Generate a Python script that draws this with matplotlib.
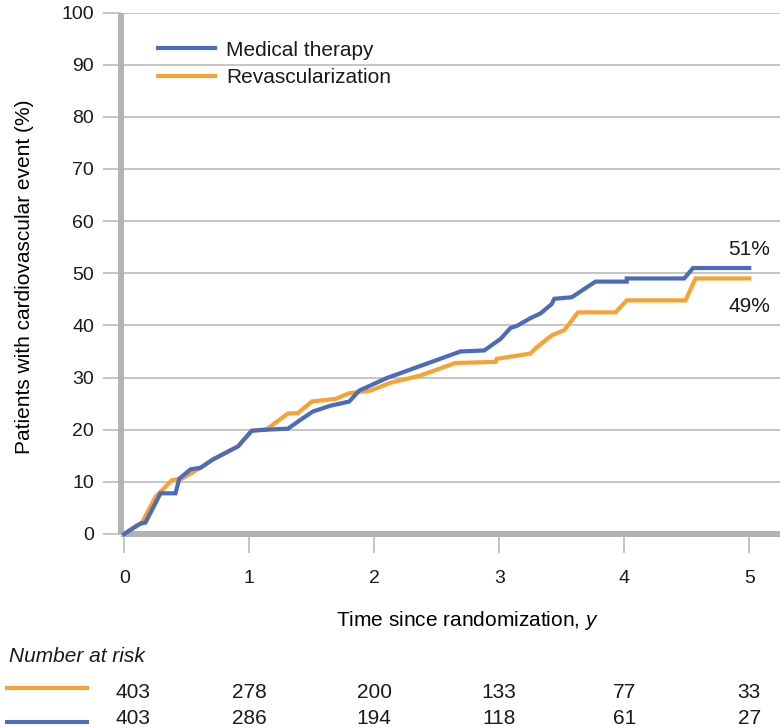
import matplotlib

matplotlib.use("Agg")
import matplotlib.pyplot as plt
from matplotlib.lines import Line2D
from matplotlib import transforms

# Cumulative event curves (years, %)
medical_t = [0, 0.13, 0.17, 0.29, 0.41, 0.44, 0.53, 0.61, 0.71, 0.91, 1.02, 1.14,
             1.31, 1.41, 1.51, 1.65, 1.80, 1.88, 2.10, 2.69, 2.88, 3.01, 3.09, 3.14,
             3.25, 3.33, 3.42, 3.44, 3.58, 3.77, 4.02, 4.02, 4.48, 4.55, 5.0]
medical_pct = [0, 2.0, 2.2, 7.8, 7.8, 10.6, 12.4, 12.7, 14.3, 16.8, 19.8, 20.0,
               20.2, 21.9, 23.5, 24.6, 25.4, 27.5, 29.9, 35.0, 35.2, 37.4, 39.5, 39.9,
               41.4, 42.3, 44.1, 45.1, 45.4, 48.4, 48.4, 49.0, 49.0, 51.0, 51.0]

revasc_t = [0, 0.10, 0.14, 0.25, 0.38, 0.46, 0.61, 0.71, 0.91, 1.02, 1.14, 1.31,
            1.39, 1.50, 1.69, 1.80, 1.97, 2.13, 2.37, 2.65, 2.97, 2.98, 3.25, 3.29,
            3.42, 3.52, 3.63, 3.93, 4.02, 4.49, 4.57, 5.0]
revasc_pct = [0, 1.7, 2.1, 7.1, 10.3, 10.6, 12.7, 14.3, 16.8, 19.8, 20.1, 23.1,
              23.2, 25.4, 25.9, 27.0, 27.5, 29.0, 30.4, 32.8, 33.0, 33.6, 34.6, 35.6,
              38.1, 39.1, 42.5, 42.5, 44.8, 44.8, 49.0, 49.0]

# Number at risk table
risk_years = [0, 1, 2, 3, 4, 5]
risk_revasc = [403, 278, 200, 133, 77, 33]
risk_medical = [403, 286, 194, 118, 61, 27]

BLUE = "#4a6cbb"
ORANGE = "#f8a233"
AXIS_GRAY = "#b3b3b3"
GRID_GRAY = "#c0c0c0"
TEXT = "#1a1a1a"

plt.rcParams["font.family"] = ["Liberation Sans", "DejaVu Sans"]
plt.rcParams["mathtext.fontset"] = "custom"
plt.rcParams["mathtext.rm"] = "Liberation Sans"
plt.rcParams["mathtext.it"] = "Liberation Sans:italic"
plt.rcParams["text.color"] = TEXT

W, H = 780, 728
fig = plt.figure(figsize=(W / 100, H / 100), dpi=100)
ax = fig.add_axes([120.5 / W, (H - 534) / H, 659.5 / W, 521.5 / H])

ax.plot(revasc_t, revasc_pct, color=ORANGE, lw=3.0, zorder=3, clip_on=False,
        solid_joinstyle="miter", label="Revascularization")
ax.plot(medical_t, medical_pct, color=BLUE, lw=3.0, zorder=4, clip_on=False,
        solid_joinstyle="miter", label="Medical therapy")

ax.set_xlim(-0.03, 5.246)
ax.set_ylim(0, 100)
ax.set_xticks(range(0, 6))
ax.set_yticks(range(0, 101, 10))

for side in ("top", "right"):
    ax.spines[side].set_visible(False)
for side in ("left", "bottom"):
    ax.spines[side].set_color(AXIS_GRAY)
    ax.spines[side].set_linewidth(4.3)
    ax.spines[side].set_capstyle("butt")

ax.set_axisbelow(True)
ax.yaxis.grid(True, color=GRID_GRAY, lw=1.3)
ax.tick_params(axis="y", length=13, width=1.3, color=GRID_GRAY, pad=6,
               labelsize=14, labelcolor=TEXT)
ax.tick_params(axis="x", length=13.7, width=1.3, color=GRID_GRAY, pad=12,
               labelsize=14, labelcolor=TEXT)

ax.set_xlabel("Time since randomization, $\\mathit{y}$", fontsize=15, va="center")
ax.xaxis.set_label_coords(0.5254, -0.165)
ax.set_ylabel("Patients with cardiovascular event (%)", fontsize=15, va="center")
ax.yaxis.set_label_coords(-0.146, 0.494)

handles, labels = ax.get_legend_handles_labels()
ax.legend(handles[::-1], labels[::-1], loc="upper left",
          bbox_to_anchor=(0.0569, 0.946), frameon=False, fontsize=15,
          handlelength=2.74, handletextpad=0.53, labelspacing=0.42,
          borderpad=0, borderaxespad=0)

ax.annotate(f"{medical_pct[-1]:.0f}%", xy=(medical_t[-1], medical_pct[-1]),
            xytext=(0, 13.3), textcoords="offset points",
            ha="center", va="center", fontsize=15)
ax.annotate(f"{revasc_pct[-1]:.0f}%", xy=(revasc_t[-1], revasc_pct[-1]),
            xytext=(0, -19.9), textcoords="offset points",
            ha="center", va="center", fontsize=15)

# Number at risk rows under the axis
fig.text(9 / W, 1 - 657 / H, "Number at risk", fontsize=15, style="italic",
         ha="left", va="center")
row_tf = transforms.blended_transform_factory(ax.transData, fig.transFigure)
rows = [(risk_revasc, ORANGE, 692.5, 687.7), (risk_medical, BLUE, 718.3, 721.7)]
for counts, color, text_y, line_y in rows:
    fig.add_artist(Line2D([7 / W, 87 / W], [1 - line_y / H] * 2,
                          color=color, lw=2.9, transform=fig.transFigure))
    for i, (yr, n) in enumerate(zip(risk_years, counts)):
        off = 8.4 if i == 0 else 0.0
        tf = row_tf + transforms.ScaledTranslation(off / 100, 0, fig.dpi_scale_trans)
        ax.text(yr, 1 - text_y / H, str(n), transform=tf, fontsize=15,
                ha="center", va="center", clip_on=False)

fig.savefig("out.png", dpi=100)
plt.close(fig)
